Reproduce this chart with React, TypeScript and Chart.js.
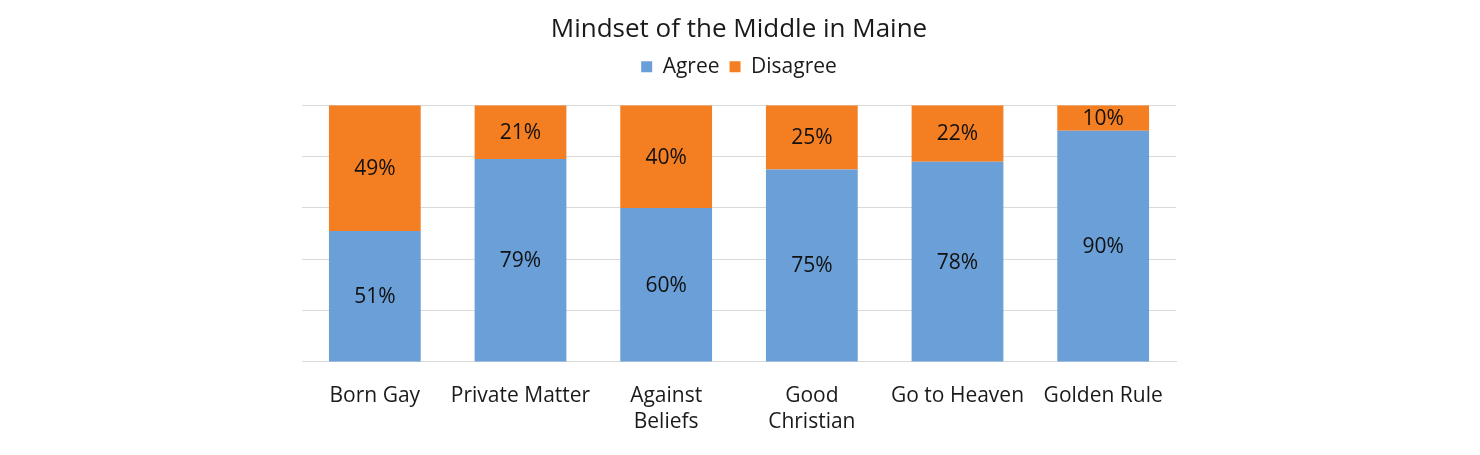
import React, { useEffect, useRef } from "react";
import { Chart, registerables } from "chart.js";

Chart.register(...registerables);

const categories: (string | string[])[] = [
  "Born Gay",
  "Private Matter",
  ["Against", "Beliefs"],
  ["Good", "Christian"],
  "Go to Heaven",
  "Golden Rule",
];
const agreeValues = [51, 79, 60, 75, 78, 90];
const disagreeValues = [49, 21, 40, 25, 22, 10];
const yTicks = [0, 20, 40, 60, 80, 100];

const FONT = "'Open Sans', Lato, sans-serif";

const barLabelPlugin = {
  id: "barLabels",
  afterDatasetsDraw(chart: any) {
    const { ctx } = chart;
    ctx.save();
    ctx.font = `21px ${FONT}`;
    ctx.fillStyle = "#111";
    ctx.textAlign = "center";
    ctx.textBaseline = "middle";
    chart.data.datasets.forEach((ds: any, di: number) => {
      const meta = chart.getDatasetMeta(di);
      meta.data.forEach((bar: any, i: number) => {
        const { x, y, base } = bar.getProps(["x", "y", "base"], true);
        ctx.fillText(`${ds.data[i]}%`, x, (y + base) / 2 + 1);
      });
    });
    ctx.restore();
  },
};

const legendMarginPlugin = {
  id: "legendMargin",
  beforeInit(chart: any) {
    const legend = chart.legend;
    if (!legend) return;
    const fit = legend.fit;
    legend.fit = function () {
      fit.call(legend);
      legend.height += 18;
    };
  },
};

export default function App() {
  const ref = useRef<HTMLCanvasElement>(null);
  useEffect(() => {
    document.body.style.margin = "0";
    const chart = new Chart(ref.current!, {
      type: "bar",
      data: {
        labels: categories,
        datasets: [
          { label: "Agree", data: agreeValues, backgroundColor: "#6a9fd7" },
          { label: "Disagree", data: disagreeValues, backgroundColor: "#f47f22" },
        ],
      },
      options: {
        animation: false,
        responsive: false,
        layout: { padding: { left: 302, right: 304, top: 0, bottom: 7 } },
        datasets: { bar: { categoryPercentage: 1, barPercentage: 0.63 } },
        plugins: {
          title: {
            display: true,
            text: "Mindset of the Middle in Maine",
            color: "#1a1a1a",
            font: { family: FONT, size: 26, weight: "normal" },
            padding: { top: 14, bottom: 1 },
          },
          legend: {
            display: true,
            labels: {
              color: "#1a1a1a",
              font: { family: FONT, size: 21 },
              boxWidth: 11,
              boxHeight: 11,
              padding: 10,
            },
          },
          tooltip: { enabled: false },
        },
        scales: {
          x: {
            stacked: true,
            grid: { display: false },
            border: { display: true, color: "#d9d9d9" },
            ticks: {
              color: "#1a1a1a",
              font: { family: FONT, size: 21, lineHeight: 1.24 },
              padding: 13,
              maxRotation: 0,
              autoSkip: false,
            },
          },
          y: {
            stacked: true,
            min: 0,
            max: 100,
            afterBuildTicks: (axis: any) => {
              axis.ticks = yTicks.map((v) => ({ value: v }));
            },
            grid: { color: "#d9d9d9", drawTicks: false },
            border: { display: false },
            ticks: { display: false },
          },
        },
      },
      plugins: [barLabelPlugin, legendMarginPlugin],
    });
    return () => chart.destroy();
  }, []);
  return (
    <div style={{ width: 1480, height: 455 }}>
      <canvas ref={ref} width={1480} height={455} style={{ width: 1480, height: 455 }} />
    </div>
  );
}
